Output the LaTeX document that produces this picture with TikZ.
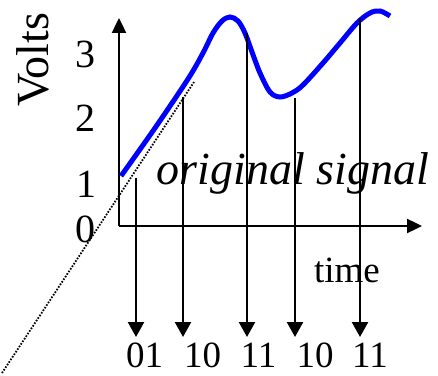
\documentclass[tikz,border=0pt]{standalone}
\usepackage{fontspec}
\setmainfont{Liberation Serif}
\usetikzlibrary{arrows.meta}
\tikzset{
  axisline/.style={line width=2.4pt, -{Triangle[length=15pt,width=14pt]}},
  samplearrow/.style={line width=2.4pt, -{Triangle[length=15pt,width=16pt]}},
  sig/.style={line width=5pt, color={rgb,255:red,0;green,0;blue,255}},
  dotline/.style={line width=1.8pt, dash pattern=on 1.6pt off 1.5pt},
  lbl/.style={inner sep=0pt, anchor=base, font=\fontsize{37}{40}\selectfont},
  num/.style={inner sep=0pt, anchor=base, font=\fontsize{40}{44}\selectfont},
}
\begin{document}
\begin{tikzpicture}[x=1pt,y=1pt]
\useasboundingbox (0,0) rectangle (438,375);
% axes
\coordinate (O) at (119,149);
\coordinate (ytip) at (119,357);
\coordinate (xtip) at (422,149);
\draw[axisline] (O) -- (ytip);
\draw[axisline] (O) -- (xtip);
% dotted line
\coordinate (d0) at (2,2);
\coordinate (d1) at (194,293);
\draw[dotline] (d0) -- (d1);
% signal
\draw[sig] plot[smooth, tension=0.55] coordinates {
  (121,199) (155,247) (188,296) (203,322) (213,342) (222,354) (230,358)
  (238,354) (245,342) (252,323) (260,302) (270,283) (280,278) (292,282)
  (303,290) (323,312) (340,332) (357,352) (370,362) (380,364) (390,359)};
% sample arrows
\coordinate (s1) at (136,197); \coordinate (b1) at (136,38);
\coordinate (s2) at (183,278); \coordinate (b2) at (183,38);
\coordinate (s3) at (247,342); \coordinate (b3) at (247,38);
\coordinate (s4) at (295,277); \coordinate (b4) at (295,38);
\coordinate (s5) at (360,357); \coordinate (b5) at (360,38);
\draw[samplearrow] (s1) -- (b1);
\draw[samplearrow] (s2) -- (b2);
\draw[samplearrow] (s3) -- (b3);
\draw[samplearrow] (s4) -- (b4);
\draw[samplearrow] (s5) -- (b5);
% bottom labels
\node[lbl] (l1) at (144.5,8) {01};
\node[lbl] (l2) at (202.5,8) {10};
\node[lbl] (l3) at (258.5,8) {11};
\node[lbl] (l4) at (315,8) {10};
\node[lbl] (l5) at (370,8) {11};
% axis numbers
\node[num] (n3) at (85,307) {3};
\node[num] (n2) at (85,243) {2};
\node[num] (n1) at (86,178) {1};
\node[num] (n0) at (85,133) {0};
% axis titles
\node[lbl] (time) at (347,93) {time};
\node[inner sep=0pt, anchor=base, rotate=90, font=\fontsize{46}{50}\selectfont] (volts) at (48,315) {Volts};
\node[inner sep=0pt, anchor=base, font=\fontsize{46}{50}\selectfont\itshape] (orig) at (293,190) {original signal};
\end{tikzpicture}
\end{document}
